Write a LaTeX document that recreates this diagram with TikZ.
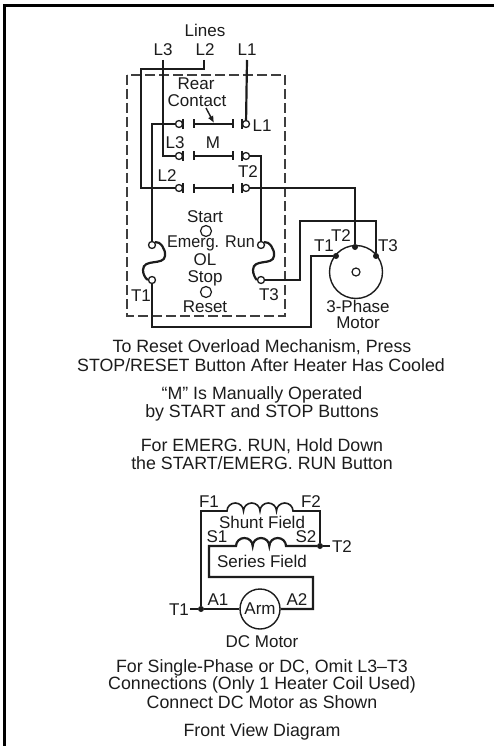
\documentclass[tikz,border=0pt]{standalone}
\usepackage{fontspec}
\setmainfont{Liberation Sans}
\usetikzlibrary{arrows.meta}
\definecolor{ink}{HTML}{1C1C1C}
\tikzset{
  wire/.style={line width=2.2pt,draw=ink,line join=miter},
  thin wire/.style={line width=1.6pt,draw=ink},
  bar/.style={line width=1.6pt,draw=ink},
  lab/.style={font=\fontsize{17}{18}\selectfont,text=ink,inner sep=0pt,anchor=center},
  captext/.style={font=\fontsize{17.8}{18}\selectfont,text=ink,inner sep=0pt,anchor=center},
  term/.style={circle,draw=ink,line width=1.3pt,fill=white,minimum size=7pt,inner sep=0pt},
  btn/.style={circle,draw=ink,line width=1.2pt,fill=white,minimum size=11pt,inner sep=0pt},
  dot/.style={circle,fill=ink,minimum size=6pt,inner sep=0pt},
  dashbox/.style={draw=ink!85,line width=1.2pt,dash pattern=on 10pt off 4pt}
}
\begin{document}
\begin{tikzpicture}[x=1pt,y=-1pt]
\useasboundingbox (0,0) rectangle (494,746);
\fill[white] (0,0) rectangle (494,746);
% frame
\draw[line width=3pt,black] (4.5,746) -- (4.5,5.5) -- (494,5.5);
% dashed housing
\draw[dashbox] (127,75) rectangle (285,316);
% terminals
\coordinate (l3in) at (163,60);
\coordinate (l2in) at (204,60);
\coordinate (l1in) at (247,60);
% left contact terminals
\node[term] (c1l) at (179,124) {};
\node[term] (c2l) at (179,156) {};
\node[term] (c3l) at (179,188) {};
\node[term] (c1r) at (246,124) {};
\node[term] (c2r) at (246,156) {};
\node[term] (c3r) at (246,188) {};
\node[term] (h1a) at (152,245) {};
\node[term] (h1b) at (152,280) {};
\node[term] (h3a) at (261,245) {};
\node[term] (h3b) at (261,280) {};
% motor
\node[circle,draw=ink,line width=1.4pt,minimum size=53pt,inner sep=0pt] (motor) at (356,272) {};
\node[circle,draw=ink,line width=1.2pt,minimum size=8pt,inner sep=0pt] (shaft) at (356,272) {};
\node[dot] (mt1) at (336,256) {};
\node[dot] (mt2) at (355,247) {};
\node[dot] (mt3) at (376,256) {};
% wires
\draw[wire] (l3in) -- (163,156) -- (c2l);
\draw[wire] (l2in) -- (204,69) -- (141,69) -- (141,188) -- (c3l);
\draw[wire] (l1in) -- (c1r);
\draw[wire] (c1l) -- (152,124) -- (h1a);
\draw[wire] (c2r) -- (261,156) -- (h3a);
\draw[wire] (c3r) -- (355,188) -- (mt2);
\draw[wire] (h1b) -- (152,327) -- (311,327) -- (311,256) -- (mt1);
\draw[wire] (h3b) -- (300,280) -- (300,221) -- (376,221) -- (mt3);
% heaters
\draw[wire] (h1a.north east) .. controls (160,241) and (166,249) .. (165,256) .. controls (164,266) and (143,258) .. (143,270) .. controls (143,274) and (145,278) .. (h1b.west);
\draw[wire] (h3a.north east) .. controls (269,241) and (275,249) .. (274,256) .. controls (273,266) and (253,258) .. (253,270) .. controls (253,274) and (255,278) .. (h3b.west);
% contact bars
\foreach \y/\n in {124/c1l,156/c2l,188/c3l}{
  \draw[bar] (183,\y-5) -- (183,\y+5);
  \draw[bar] (242,\y-5) -- (242,\y+5);
  \draw[bar] (194,\y-4.5) -- (194,\y+4.5);
  \draw[bar] (233,\y-4.5) -- (233,\y+4.5);
  \draw[bar] (194,\y) -- (233,\y);
}
\coordinate (ra) at (206,108);
\coordinate (rb) at (214,123);
\draw[line width=1.4pt,draw=ink,-{Latex[length=7pt,width=6pt]}] (ra) -- (rb);
% buttons
\node[btn] (start) at (206,231) {};
\node[btn] (reset) at (206,292) {};
% labels
\node[lab] (tlines) at (205,30) {Lines};
\node[lab] (tl3) at (163,50) {L3};
\node[lab] (tl2) at (205,50) {L2};
\node[lab] (tl1) at (247,50) {L1};
\node[lab] (trear) at (196,84) {Rear};
\node[lab] (tcont) at (197,101) {Contact};
\node[lab] (tl1b) at (262,126) {L1};
\node[lab] (tl3b) at (175,143) {L3};
\node[lab] (tm) at (213,143) {M};
\node[lab] (tl2b) at (167,176) {L2};
\node[lab] (tt2) at (248,172) {T2};
\node[lab] (tstart) at (205,217) {Start};
\node[lab,xscale=0.95,transform shape] (temerg) at (211,243) {Emerg. Run};
\node[lab] (tol) at (205,260) {OL};
\node[lab] (tstop) at (205,278.5) {Stop};
\node[lab] (treset) at (205,307) {Reset};
\node[lab] (tt1) at (141,296) {T1};
\node[lab] (tt3) at (269,295) {T3};
\node[lab] (mtt1) at (324,246) {T1};
\node[lab] (mtt2) at (341,236) {T2};
\node[lab] (mtt3) at (388,246) {T3};
\node[lab] (phase) at (358,306) {3-Phase};
\node[lab] (mot) at (358,323) {Motor};
% captions
\node[captext] (c1) at (262,347.5) {To Reset Overload Mechanism, Press};
\node[captext] (c2) at (261,365) {STOP/RESET Button After Heater Has Cooled};
\node[captext] (c3) at (262,395) {“M” Is Manually Operated};
\node[captext] (c4) at (262,412.5) {by START and STOP Buttons};
\node[captext] (c5) at (262,446) {For EMERG. RUN, Hold Down};
\node[captext] (c6) at (262,463.5) {the START/EMERG. RUN Button};
% DC motor
\node[dot] (dt2) at (320,546) {};
\node[dot] (dt1) at (201,609) {};
\node[circle,draw=ink,line width=1.4pt,minimum size=40pt,inner sep=0pt,fill=white,font=\fontsize{17}{18}\selectfont,text=ink] (arm) at (260,609) {Arm};
\coordinate (t2end) at (330,546);
\coordinate (t1end) at (190,609);
\draw[thin wire] (dt1) -- (201,511) -- (227,511)
  arc[start angle=180,end angle=360,x radius=8.25,y radius=8]
  arc[start angle=180,end angle=360,x radius=8.25,y radius=8]
  arc[start angle=180,end angle=360,x radius=8.25,y radius=8]
  arc[start angle=180,end angle=360,x radius=8.25,y radius=8]
  -- (320,511) -- (dt2);
\draw[wire] (dt2) -- (286,546)
  arc[start angle=0,end angle=-180,x radius=8.33,y radius=8]
  arc[start angle=0,end angle=-180,x radius=8.33,y radius=8]
  arc[start angle=0,end angle=-180,x radius=8.33,y radius=8]
  -- (209,546) -- (209,577) -- (313,577) -- (313,609) -- (arm);
\draw[wire] (arm) -- (dt1);
\draw[thin wire] (dt1) -- (t1end);
\draw[thin wire] (dt2) -- (t2end);
\node[lab] (f1) at (209,502) {F1};
\node[lab] (f2) at (311,502) {F2};
\node[lab] (shunt) at (262,522) {Shunt Field};
\node[lab] (s1) at (217,537) {S1};
\node[lab] (s2) at (306,537) {S2};
\node[lab] (dtt2) at (342,547) {T2};
\node[lab] (series) at (262,561) {Series Field};
\node[lab] (dtt1) at (179,610) {T1};
\node[lab] (a1) at (218,600) {A1};
\node[lab] (a2) at (297,600) {A2};
\node[lab] (dcm) at (262,642) {DC Motor};
\node[captext] (c7) at (262,667.5) {For Single-Phase or DC, Omit L3–T3};
\node[captext] (c8) at (262,685) {Connections (Only 1 Heater Coil Used)};
\node[captext] (c9) at (262,702.5) {Connect DC Motor as Shown};
\node[captext] (c10) at (262,732) {Front View Diagram};
\end{tikzpicture}
\end{document}
